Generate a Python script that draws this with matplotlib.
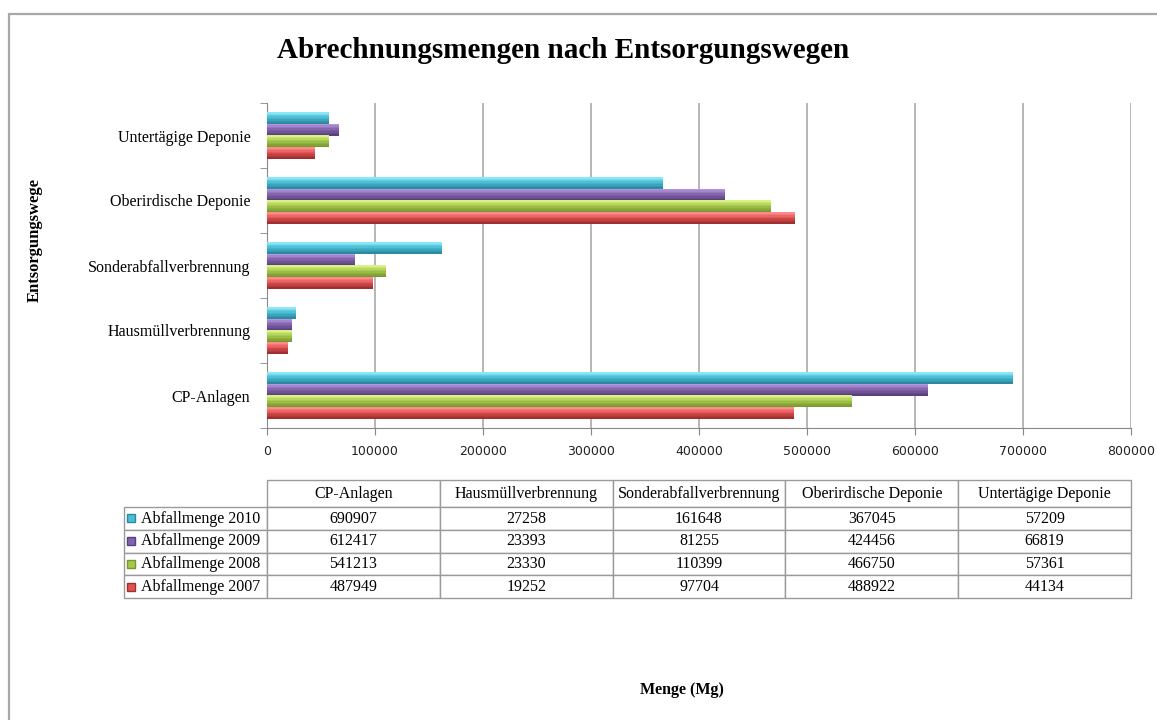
import matplotlib
matplotlib.use("Agg")
import matplotlib.pyplot as plt
from matplotlib.patches import Rectangle
from matplotlib.colors import to_rgb
import numpy as np

categories = ["CP-Anlagen", "Hausmüllverbrennung", "Sonderabfallverbrennung",
              "Oberirdische Deponie", "Untertägige Deponie"]
series = ["Abfallmenge 2010", "Abfallmenge 2009", "Abfallmenge 2008", "Abfallmenge 2007"]
values_2010 = [690907, 27258, 161648, 367045, 57209]
values_2009 = [612417, 23393, 81255, 424456, 66819]
values_2008 = [541213, 23330, 110399, 466750, 57361]
values_2007 = [487949, 19252, 97704, 488922, 44134]
x_ticks = [0, 100000, 200000, 300000, 400000, 500000, 600000, 700000, 800000]

# (light, base, dark) shades for the glossy bar look
shades = {
    "Abfallmenge 2010": ("#8ae8f6", "#4bbdd4", "#2a8aa0"),
    "Abfallmenge 2009": ("#b496e0", "#8264aa", "#5a4080"),
    "Abfallmenge 2008": ("#d8f283", "#a6c84e", "#76982c"),
    "Abfallmenge 2007": ("#ff8a8a", "#e05252", "#a03030"),
}
all_values = [values_2010, values_2009, values_2008, values_2007]

serif = "Liberation Serif"
W, H = 1157, 720
fig = plt.figure(figsize=(W / 100, H / 100), dpi=100)

# outer chart frame
fig.patches.append(Rectangle((9 / W, -0.1), 1.2, 1 - 14 / H + 0.1, transform=fig.transFigure,
                             fill=False, edgecolor="#a8a8a8", lw=1.6))

ax = fig.add_axes([267 / W, 1 - 428 / H, (1131 - 267) / W, (428 - 103) / H])


def blend(c1, c2, t):
    a, b = np.array(to_rgb(c1)), np.array(to_rgb(c2))
    return tuple(a + (b - a) * t)


y = np.arange(len(categories))
bar_h = 0.18
n_strip = 8
offsets = [1.5 * bar_h, 0.5 * bar_h, -0.5 * bar_h, -1.5 * bar_h]
for name, vals, off in zip(series, all_values, offsets):
    light, base, dark = shades[name]
    pos = y + off
    # light edge at top, fading through base to dark at the bottom
    for k in range(n_strip):
        t = k / (n_strip - 1)
        col = blend(light, base, t / 0.45) if t < 0.45 else blend(base, dark, (t - 0.45) / 0.55)
        yy = pos + bar_h / 2 - (k + 0.5) * bar_h / n_strip
        ax.barh(yy, vals, height=bar_h / n_strip * 1.05, color=col, lw=0, zorder=3)

ax.set_xlim(0, 800000)
ax.set_ylim(-0.5, len(categories) - 0.5)
ax.set_xticks(x_ticks)
ax.set_xticklabels([str(t) for t in x_ticks], fontsize=9, family="DejaVu Sans", color="#222222")
ax.set_yticks(y)
ax.set_yticklabels(categories, fontsize=11.5, family=serif)
ax.set_yticks(np.arange(-0.5, len(categories)), minor=True)
ax.tick_params(axis="y", which="major", length=0, pad=12)
ax.tick_params(axis="y", which="minor", length=5, color="#888888")
ax.tick_params(axis="x", length=5, color="#888888", pad=7)
ax.grid(axis="x", color="#b0b0b0", lw=1.3, zorder=0)
for side in ["top", "right"]:
    ax.spines[side].set_visible(False)
for side in ["left", "bottom"]:
    ax.spines[side].set_color("#888888")

# data table below the plot
cell_text = [[name] + [str(v) for v in vals] for name, vals in zip(series, all_values)]
tbl = ax.table(cellText=cell_text, colLabels=[""] + categories,
               colWidths=[143] + [172.8] * 5,
               bbox=[-143 / 864, (428 - 598) / 325, 1 + 143 / 864, (598 - 480) / 325],
               cellLoc="center")
tbl.auto_set_font_size(False)
for (r, c), cell in tbl.get_celld().items():
    cell.set_edgecolor("#9a9a9a")
    cell.set_linewidth(1.0)
    cell.get_text().set_fontfamily(serif)
    cell.get_text().set_fontsize(11.5)
    cell.set_height(27 if r == 0 else 22.5)
    if r == 0 and c == 0:
        cell.visible_edges = ""
    if c == 0 and r > 0:
        cell.get_text().set_ha("left")
        cell._loc = "left"
        cell.PAD = 0.12

row_h = (598 - 507) / 4
for i, name in enumerate(series):
    yc = (428 - (507 + row_h * (i + 0.5))) / 325
    ax.plot([(131 - 267) / 864], [yc], marker="s", markersize=6, color=shades[name][1],
            markeredgecolor=shades[name][2], transform=ax.transAxes, clip_on=False)

fig.text(563 / W, 1 - 50 / H, "Abrechnungsmengen nach Entsorgungswegen", ha="center", va="center",
         fontsize=21, fontweight="bold", family=serif)
fig.text(35 / W, 1 - 240 / H, "Entsorgungswege", rotation=90, ha="center", va="center",
         fontsize=12, fontweight="bold", family=serif)
fig.text(682 / W, 1 - 690 / H, "Menge (Mg)", ha="center", va="center",
         fontsize=11.5, fontweight="bold", family=serif)

fig.savefig("out.png", dpi=100)
